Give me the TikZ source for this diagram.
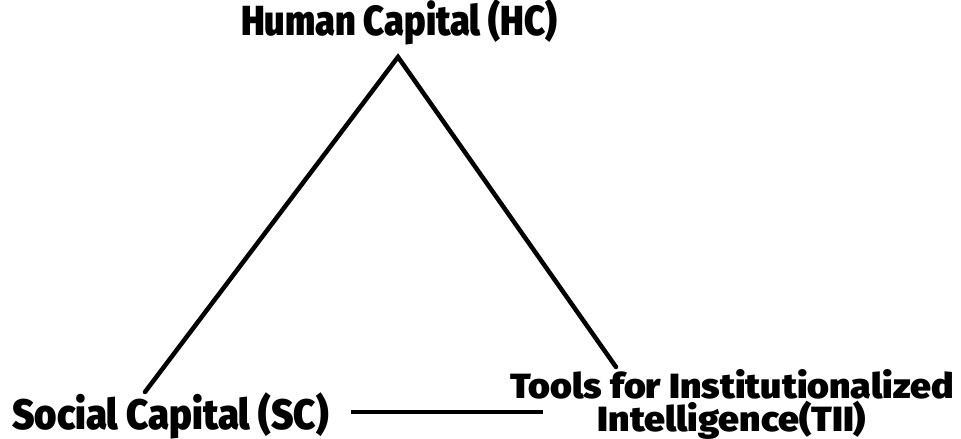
\documentclass[tikz,border=0pt]{standalone}
\usepackage{fontspec}
\newfontfamily\narrowbold[FakeStretch=0.86]{Fira Sans Black}
\newfontfamily\socialbold[FakeStretch=0.9]{Fira Sans Black}
\newfontfamily\widebold[FakeStretch=1.07]{Fira Sans Black}
\usetikzlibrary{calc}

\begin{document}
\begin{tikzpicture}[x=1pt,y=-1pt,
  label text/.style={inner sep=0pt,text=black},
  side/.style={line width=4.5pt,line cap=round}]
  \useasboundingbox[fill=white] (0,0) rectangle (961,439);
  % the three capitals
  \node[label text,font=\narrowbold\fontsize{42}{42}\selectfont,anchor=base] (hc) at (399,35) {Human Capital (HC)};
  \node[label text,font=\socialbold\fontsize{42.5}{42.5}\selectfont,anchor=base west] (sc) at (12,429) {Social Capital (SC)};
  \node[label text,font=\widebold\fontsize{35}{30}\selectfont,align=center,anchor=base] (tii) at (732,431) {Tools for Institutionalized\\Intelligence(TII)};
  % corners of the triangle
  \coordinate (apex) at (398,57);
  \coordinate (sc end) at (145,392);
  \coordinate (tii end) at (616,367);
  \coordinate (base from) at (351,412);
  \coordinate (base to) at (543,412);
  \draw[side] (sc end) -- (apex) -- (tii end);
  \draw[line width=4pt] (base from) -- (base to);
\end{tikzpicture}
\end{document}
